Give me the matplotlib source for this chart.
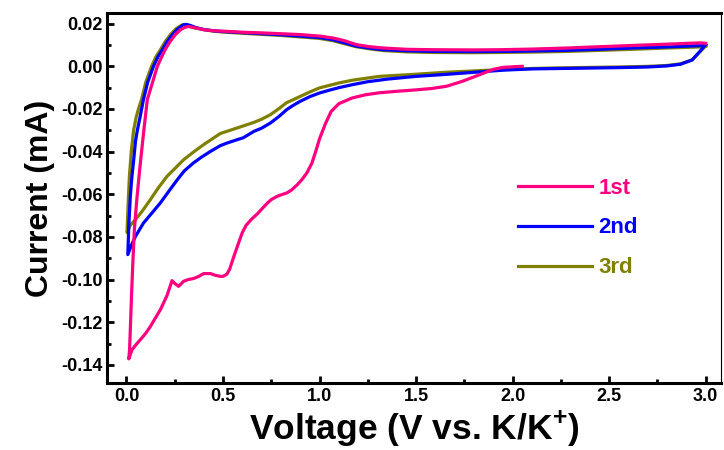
import matplotlib
matplotlib.use("Agg")
import matplotlib.pyplot as plt
from matplotlib.ticker import MultipleLocator

plt.rcParams['font.family'] = ['Liberation Sans', 'DejaVu Sans']
plt.rcParams['font.weight'] = 'bold'
plt.rcParams['axes.unicode_minus'] = False
plt.rcParams['mathtext.fontset'] = 'custom'
plt.rcParams['mathtext.bf'] = 'Liberation Sans:bold'
plt.rcParams['mathtext.rm'] = 'Liberation Sans:bold'
plt.rcParams['mathtext.default'] = 'bf'

# cycle 1: from OCV down to 0.01 V, then back up to 3.0 V
v1 = [2.05, 2.00, 1.95, 1.90, 1.83, 1.74, 1.66, 1.58, 1.49, 1.40, 1.31, 1.24, 1.17, 1.10,
      1.06, 1.03, 1.00, 0.98, 0.96, 0.935, 0.91, 0.885, 0.855, 0.83, 0.80, 0.78, 0.75, 0.73,
      0.70, 0.68, 0.65, 0.62, 0.60, 0.58, 0.555, 0.535, 0.52, 0.50, 0.486, 0.46, 0.435, 0.40,
      0.375, 0.348, 0.32, 0.296, 0.27, 0.25, 0.236, 0.21, 0.176, 0.15, 0.124, 0.10, 0.072,
      0.05, 0.029, 0.012,
      0.016, 0.02, 0.026, 0.033, 0.041, 0.055, 0.072, 0.09, 0.108, 0.13, 0.16, 0.18, 0.20,
      0.225, 0.253, 0.28, 0.30, 0.32, 0.34, 0.37, 0.40, 0.45, 0.50, 0.60, 0.70, 0.80, 0.90,
      1.00, 1.07, 1.13, 1.19, 1.26, 1.33, 1.45, 1.59, 1.80, 1.93, 2.10, 2.28, 2.45, 2.62,
      2.80, 2.97, 3.00]
i1 = [0.0, -0.0002, -0.0005, -0.0014, -0.0039, -0.0070, -0.0093, -0.0104, -0.0111, -0.0117,
      -0.0124, -0.0133, -0.0148, -0.0175, -0.0212, -0.0270, -0.0340, -0.0400, -0.0455,
      -0.0499, -0.0530, -0.0555, -0.0580, -0.0594, -0.0603, -0.0610, -0.0625, -0.0641,
      -0.0670, -0.0690, -0.0715, -0.0745, -0.0780, -0.0830, -0.0895, -0.0950, -0.0975,
      -0.0985, -0.0985, -0.0980, -0.0972, -0.0972, -0.0985, -0.0995, -0.1000, -0.1008,
      -0.1032, -0.1018, -0.1005, -0.1075, -0.1141, -0.1180, -0.1220, -0.1252, -0.1282,
      -0.1305, -0.1329, -0.1372,
      -0.1330, -0.1235, -0.1079, -0.0922, -0.0766, -0.0610, -0.0453, -0.0300, -0.0156,
      -0.0090, 0.0, 0.0040, 0.0078, 0.0115, 0.0149, 0.0172, 0.0182, 0.0187, 0.0184, 0.0178,
      0.0172, 0.0167, 0.0165, 0.0160, 0.0157, 0.0153, 0.0149, 0.0142, 0.0133, 0.0120,
      0.0102, 0.0092, 0.0086, 0.0080, 0.0078, 0.0077, 0.0078, 0.0081, 0.0086, 0.0092,
      0.0098, 0.0104, 0.0110, 0.0108]

# cycle 2
v2 = [3.00, 2.97, 2.93, 2.87, 2.80, 2.70, 2.55, 2.40, 2.25, 2.10, 1.95, 1.80, 1.65, 1.50,
      1.35, 1.25, 1.17, 1.10, 1.05, 1.00, 0.95, 0.90, 0.86, 0.83, 0.79, 0.745, 0.70, 0.66,
      0.605, 0.57, 0.52, 0.486, 0.435, 0.39, 0.347, 0.30, 0.264, 0.22, 0.176, 0.13, 0.088,
      0.047, 0.025, 0.007,
      0.012, 0.02, 0.028, 0.036, 0.047, 0.057, 0.07, 0.088, 0.11, 0.14, 0.163, 0.186, 0.21,
      0.238, 0.265, 0.295, 0.31, 0.33, 0.36, 0.40, 0.45, 0.50, 0.60, 0.70, 0.80, 0.90, 1.00,
      1.07, 1.13, 1.19, 1.26, 1.33, 1.45, 1.59, 1.80, 1.93, 2.10, 2.28, 2.45, 2.62, 2.80,
      2.97, 3.00]
i2 = [0.0102, 0.0070, 0.0030, 0.0010, 0.0002, -0.0003, -0.0006, -0.0008, -0.0010, -0.0012,
      -0.0018, -0.0028, -0.0038, -0.0047, -0.0060, -0.0072, -0.0086, -0.0100, -0.0112,
      -0.0125, -0.0142, -0.0164, -0.0185, -0.0203, -0.0235, -0.0266, -0.0290, -0.0305,
      -0.0335, -0.0345, -0.0360, -0.0372, -0.0399, -0.0425, -0.0453, -0.0490, -0.0531,
      -0.0585, -0.0640, -0.0690, -0.0735, -0.0797, -0.0840, -0.0883,
      -0.0750, -0.0610, -0.0520, -0.0452, -0.0350, -0.0297, -0.0240, -0.0156, -0.0075, 0.0,
      0.0045, 0.0078, 0.0115, 0.0149, 0.0175, 0.0195, 0.0197, 0.0192, 0.0182, 0.0173,
      0.0167, 0.0163, 0.0158, 0.0153, 0.0148, 0.0142, 0.0135, 0.0125, 0.0110, 0.0095,
      0.0085, 0.0078, 0.0073, 0.0070, 0.0069, 0.0070, 0.0072, 0.0075, 0.0080, 0.0086,
      0.0091, 0.0097, 0.0102]

# cycle 3
v3 = [3.00, 2.97, 2.93, 2.87, 2.80, 2.70, 2.55, 2.40, 2.25, 2.10, 1.95, 1.83, 1.65, 1.50,
      1.31, 1.17, 1.10, 1.00, 0.95, 0.90, 0.86, 0.83, 0.79, 0.745, 0.70, 0.66, 0.57, 0.486,
      0.40, 0.35, 0.296, 0.25, 0.21, 0.165, 0.124, 0.085, 0.047, 0.02, 0.003,
      0.008, 0.015, 0.025, 0.037, 0.05, 0.062, 0.078, 0.10, 0.13, 0.153, 0.176, 0.20, 0.228,
      0.255, 0.285, 0.30, 0.32, 0.35, 0.40, 0.45, 0.50, 0.60, 0.70, 0.80, 0.90, 1.00, 1.07,
      1.13, 1.19, 1.26, 1.33, 1.45, 1.59, 1.80, 1.93, 2.10, 2.28, 2.45, 2.62, 2.80, 2.97,
      3.00]
i3 = [0.0095, 0.0068, 0.0030, 0.0012, 0.0004, 0.0, -0.0003, -0.0005, -0.0007, -0.0010,
      -0.0015, -0.0020, -0.0028, -0.0037, -0.0047, -0.0065, -0.0078, -0.0101, -0.0120,
      -0.0141, -0.0158, -0.0170, -0.0198, -0.0227, -0.0248, -0.0263, -0.0290, -0.0315,
      -0.0367, -0.0400, -0.0438, -0.0480, -0.0516, -0.0570, -0.0625, -0.0675, -0.0719,
      -0.0745, -0.0780,
      -0.0660, -0.0520, -0.0400, -0.0300, -0.0240, -0.0200, -0.0156, -0.0075, 0.0, 0.0045,
      0.0078, 0.0115, 0.0149, 0.0175, 0.0193, 0.0196, 0.0191, 0.0181, 0.0172, 0.0165,
      0.0161, 0.0155, 0.0150, 0.0145, 0.0138, 0.0131, 0.0120, 0.0106, 0.0092, 0.0082,
      0.0074, 0.0068, 0.0065, 0.0064, 0.0065, 0.0067, 0.0070, 0.0075, 0.0080, 0.0086,
      0.0091, 0.0095]

labels = ["1st", "2nd", "3rd"]
colors = ["#ff0080", "#0000ff", "#808000"]

fig = plt.figure(figsize=(7.24, 4.5), dpi=100)
ax = fig.add_axes([0.148, 0.149, 0.848, 0.822])

# draw 3rd first so that 1st sits on top
lines = {}
for v, c, col, lab, z in [(v3, i3, colors[2], labels[2], 2), (v2, i2, colors[1], labels[1], 3),
                          (v1, i1, colors[0], labels[0], 4)]:
    lines[lab], = ax.plot(v, c, color=col, lw=2.3, label=lab, zorder=z, solid_joinstyle='round')

ax.set_xlim(-0.1, 3.08)
ax.set_ylim(-0.1485, 0.025)
ax.xaxis.set_major_locator(MultipleLocator(0.5))
ax.xaxis.set_minor_locator(MultipleLocator(0.25))
ax.yaxis.set_major_locator(MultipleLocator(0.02))
ax.yaxis.set_minor_locator(MultipleLocator(0.01))
ax.xaxis.set_major_formatter(plt.FormatStrFormatter('%.1f'))
ax.yaxis.set_major_formatter(plt.FormatStrFormatter('%.2f'))
ax.tick_params(which='both', direction='in', top=False, right=False, width=2)
ax.tick_params(which='major', length=5, labelsize=13)
ax.tick_params(which='minor', length=3)

for s in ['left', 'bottom', 'top']:
    ax.spines[s].set_linewidth(2.2)
ax.spines['right'].set_linewidth(0.8)

ax.set_xlabel("Voltage (V vs. K/K$^{+}$)", fontsize=25.5, fontweight='bold', labelpad=3)
ax.set_ylabel("Current (mA)", fontsize=23, fontweight='bold', labelpad=4)

leg = ax.legend([lines[l] for l in labels], labels, loc='center left',
                bbox_to_anchor=(0.637, 0.419), frameon=False, fontsize=16,
                handlelength=3.3, handletextpad=0.3, labelspacing=0.85)
for txt, col in zip(leg.get_texts(), colors):
    txt.set_color(col)
    txt.set_fontweight('bold')

fig.savefig("out.png", dpi=100)
